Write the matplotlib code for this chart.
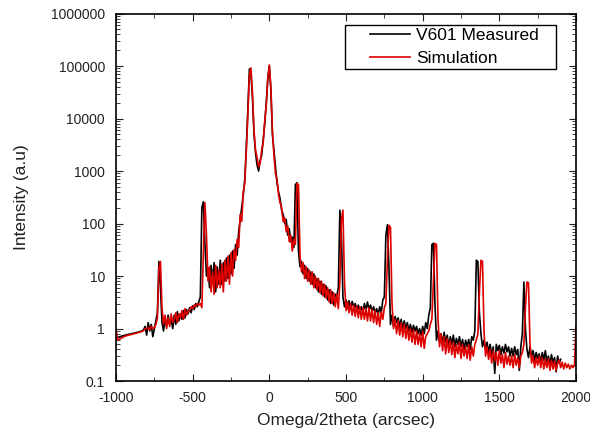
import numpy as np
import matplotlib
matplotlib.use('Agg')
import matplotlib.pyplot as plt
from matplotlib.patches import Rectangle
from matplotlib.ticker import MultipleLocator, LogLocator, FuncFormatter, NullFormatter

plt.rcParams['font.family'] = ['Liberation Sans', 'DejaVu Sans']
plt.rcParams['axes.unicode_minus'] = False

# scan start (sparse points before the dense scan)
x_start = [-1000, -990, -940, -880, -830]
meas_start = [0.65, 0.68, 0.75, 0.82, 0.9]
sim_start = [1.0, 0.6, 0.72, 0.8, 0.88]

# dense scan, 10 arcsec step
x_meas = np.arange(-820, 1901, 10)
x_sim = np.arange(-820, 2001, 10)

meas = [
    0.95, 1.1, 0.75, 1.3, 0.9, 1.2, 0.7, 1.0, 1.4, 2.0,            # -820
    19, 6, 1.3, 0.9, 1.6, 1.1, 1.8, 1.2, 1.5, 1.0,                 # -720
    1.8, 1.2, 2.1, 1.4, 1.9, 1.5, 2.2, 1.6, 2.3, 1.9,              # -620
    2.5, 2.0, 2.7, 2.3, 3.0, 2.6, 3.2, 4.0, 200, 260,              # -520
    40, 10, 14, 6, 16, 8, 18, 5, 15, 7,                            # -420
    20, 7, 18, 8, 22, 9, 25, 11, 30, 14,                           # -320
    40, 25, 70, 120, 200, 350, 700, 3000, 15000, 88000,            # -220
    70000, 25000, 5000, 2200, 1300, 1000, 1600, 2000, 4000, 8000,  # -120
    20000, 60000, 100000, 35000, 5000, 2500, 1200, 600, 400, 300,  # -20
    180, 150, 100, 120, 60, 80, 45, 55, 35, 550,                   # 80
    600, 30, 15, 19, 11, 16, 9, 14, 8, 12,                         # 180
    7, 11, 6, 9, 5, 8, 4.5, 7, 4, 6.5,                             # 280
    3.5, 5.5, 3, 5, 2.8, 4.5, 4.2, 6, 180, 60,                     # 380
    4, 2.6, 3.5, 2.4, 3.4, 2.3, 3.3, 2.6, 3.0, 2.2,                # 480
    2.8, 2.1, 2.6, 2.0, 3.0, 2.2, 3.2, 2.3, 2.8, 2.1,              # 580
    2.6, 2.0, 2.4, 1.8, 2.6, 2.0, 3.5, 4, 60, 95,                  # 680
    15, 1.2, 1.8, 1.1, 1.7, 1.3, 1.6, 1.1, 1.5, 1.0,               # 780
    1.4, 1.0, 1.3, 0.9, 1.2, 0.85, 1.15, 0.9, 1.1, 0.8,            # 880
    1.0, 0.75, 1.1, 0.8, 1.3, 1.0, 1.8, 2.5, 40, 42,               # 980
    3, 0.6, 0.9, 0.55, 0.8, 0.5, 0.85, 0.55, 0.75, 0.45,           # 1080
    0.7, 0.5, 0.75, 0.45, 0.65, 0.5, 0.7, 0.45, 0.62, 0.4,         # 1180
    0.6, 0.45, 0.62, 0.4, 0.7, 0.6, 0.9, 20, 19, 2,                # 1280
    0.8, 0.45, 0.6, 0.4, 0.55, 0.35, 0.5, 0.3, 0.45, 0.14,         # 1380
    0.5, 0.38, 0.48, 0.32, 0.45, 0.34, 0.5, 0.36, 0.45, 0.3,       # 1480
    0.42, 0.3, 0.45, 0.32, 0.4, 0.16, 0.45, 0.8, 7.7, 1.0,         # 1580
    0.4, 0.28, 0.45, 0.3, 0.38, 0.25, 0.35, 0.27, 0.33, 0.22,      # 1680
    0.35, 0.25, 0.38, 0.23, 0.3, 0.2, 0.32, 0.22, 0.28, 0.15,      # 1780
    0.3, 0.22, 0.26,                                               # 1880
]

sim = [
    0.92, 0.98, 1.0, 1.05, 0.95, 1.1, 1.0, 1.05, 1.2, 1.6,         # -820
    14, 19, 2.5, 1.2, 1.8, 1.0, 1.6, 1.1, 1.9, 1.3,                # -720
    1.5, 2.0, 1.3, 1.9, 1.6, 2.2, 1.5, 2.4, 1.8, 2.1,              # -620
    2.2, 2.6, 2.4, 2.8, 2.6, 3.0, 2.8, 3.0, 2.5, 30,               # -520
    250, 60, 8, 15, 5, 12, 4.5, 16, 6, 13,                         # -420
    6, 17, 5, 20, 8, 24, 7, 28, 10, 32,                            # -320
    20, 50, 35, 150, 110, 400, 600, 2500, 12000, 70000,            # -220
    92000, 30000, 6000, 2500, 1800, 1200, 1400, 2500, 3500, 9000,  # -120
    18000, 55000, 105000, 40000, 6000, 2000, 900, 700, 350, 250,   # -20
    200, 110, 130, 70, 90, 45, 60, 30, 50, 40,                     # 80
    580, 550, 25, 12, 18, 9, 15, 8, 13, 7,                         # 180
    12, 6, 10, 5.5, 9, 4.8, 8, 4.2, 7, 3.8,                        # 280
    6, 3.2, 5.5, 3, 4.8, 2.6, 4.5, 2.4, 8, 120,                    # 380
    180, 8, 2.2, 3.2, 2.0, 3.0, 1.8, 2.8, 1.7, 2.7,                # 480
    1.6, 2.6, 1.5, 2.5, 1.5, 2.4, 1.4, 2.5, 1.4, 2.3,              # 580
    1.3, 2.2, 1.2, 2.0, 1.1, 2.1, 1.5, 2.5, 3, 20,                 # 680
    93, 85, 3, 1.0, 1.5, 0.8, 1.4, 0.75, 1.3, 0.7,                 # 780
    1.2, 0.65, 1.1, 0.6, 1.0, 0.55, 0.95, 0.5, 0.9, 0.5,           # 880
    0.8, 0.45, 0.9, 0.42, 0.7, 0.8, 0.9, 1.2, 1.5, 8,              # 980
    42, 40, 1.5, 0.45, 0.8, 0.38, 0.7, 0.33, 0.65, 0.35,           # 1080
    0.6, 0.32, 0.55, 0.28, 0.5, 0.33, 0.55, 0.27, 0.5, 0.3,        # 1180
    0.45, 0.27, 0.5, 0.25, 0.45, 0.3, 0.5, 0.6, 0.8, 5,            # 1280
    20, 19, 0.9, 0.3, 0.45, 0.26, 0.4, 0.22, 0.38, 0.24,           # 1380
    0.35, 0.2, 0.38, 0.22, 0.32, 0.18, 0.35, 0.21, 0.3, 0.2,       # 1480
    0.3, 0.18, 0.32, 0.2, 0.28, 0.18, 0.3, 0.35, 0.5, 2.5,         # 1580
    7.7, 7.5, 0.5, 0.22, 0.3, 0.18, 0.28, 0.2, 0.3, 0.18,          # 1680
    0.28, 0.17, 0.26, 0.18, 0.27, 0.16, 0.25, 0.17, 0.24, 0.16,    # 1780
    0.22, 0.25, 0.18, 0.23, 0.17, 0.22, 0.18, 0.21, 0.17, 0.2,     # 1880
    0.18, 0.2, 1.1,                                                # 1980
]

xm = np.concatenate([x_start, x_meas])
ym = np.concatenate([meas_start, meas])
xs = np.concatenate([x_start, x_sim])
ys = np.concatenate([sim_start, sim])

fig = plt.figure(figsize=(5.9, 4.37), dpi=100)
ax = fig.add_axes([0.1966, 0.128, 0.7797, 0.841])

ax.plot(xm, ym, color='black', lw=1.2, label='V601 Measured')
ax.plot(xs, ys, color='#dd0000', lw=1.2, label='Simulation')

ax.set_yscale('log')
ax.set_xlim(-1000, 2000)
ax.set_ylim(0.1, 1e6)

ax.xaxis.set_major_locator(MultipleLocator(500))
ax.xaxis.set_minor_locator(MultipleLocator(250))
ax.yaxis.set_major_locator(LogLocator(base=10, numticks=10))
ax.yaxis.set_minor_locator(LogLocator(base=10, subs=np.arange(2, 10), numticks=10))
ax.yaxis.set_major_formatter(FuncFormatter(lambda v, p: f'{v:.0f}' if v >= 1 else f'{v:g}'))
ax.yaxis.set_minor_formatter(NullFormatter())

ax.tick_params(which='both', direction='in', top=True, right=True, labelsize=10, colors='#222222')
ax.tick_params(which='major', length=5)
ax.tick_params(which='minor', length=3)
ax.tick_params(axis='x', pad=7)
ax.tick_params(axis='y', pad=8)
for s in ax.spines.values():
    s.set_linewidth(1.2)

ax.set_xlabel('Omega/2theta (arcsec)', fontsize=12.5, color='#222222', labelpad=6)
ax.set_ylabel('Intensity (a.u)', fontsize=12.5, color='#222222', labelpad=16)

# legend: text/lines without frame, box drawn separately (wider left margin as in the original)
leg = ax.legend(loc='upper left', bbox_to_anchor=(0.552, 0.962), borderaxespad=0, borderpad=0,
                frameon=False, fontsize=12.5, handlelength=2.3, handletextpad=0.35,
                labelspacing=0.5)
ax.add_patch(Rectangle((0.498, 0.849), 0.459, 0.12, transform=ax.transAxes,
                       fill=False, edgecolor='black', lw=1.0, zorder=5))

plt.savefig('out.png', dpi=100)
